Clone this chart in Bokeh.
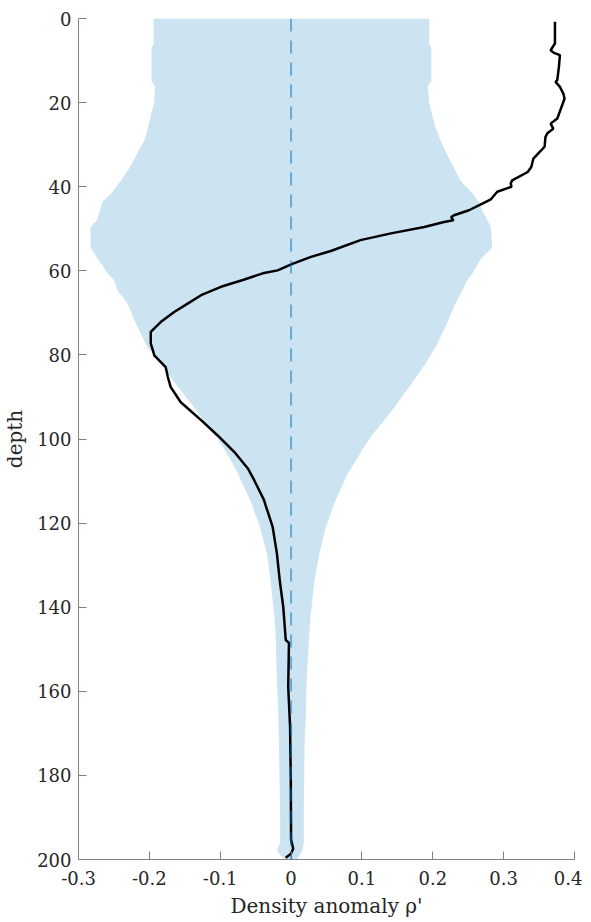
from bokeh.plotting import figure
from bokeh.models import Range1d, FixedTicker, ColumnDataSource, Span
from bokeh.embed import file_html
from bokeh.resources import INLINE

# ---- data ----
band_depth = [0, 6, 7, 15, 16, 20, 23, 26, 29, 32, 34, 35.5, 38.5, 41.6, 43.6, 46.4, 48, 49.6,
              54.5, 57.1, 60.6, 62.2, 64.6, 67.8, 73.3, 78.1, 82, 87.6, 92.4, 96.3, 98.7, 101.9,
              105, 108.2, 113, 115.3, 120.9, 127.2, 133.6, 141.5, 145.5, 157.4, 165.3, 173.2,
              189, 196, 197.8, 199, 200]
band_lower = [-0.194, -0.194, -0.197, -0.197, -0.192, -0.193, -0.198, -0.202, -0.207, -0.217,
              -0.223, -0.228, -0.240, -0.254, -0.266, -0.271, -0.274, -0.283, -0.283, -0.273,
              -0.259, -0.250, -0.245, -0.231, -0.217, -0.203, -0.184, -0.160, -0.137, -0.121,
              -0.109, -0.096, -0.085, -0.075, -0.062, -0.056, -0.044, -0.034, -0.029, -0.024,
              -0.022, -0.020, -0.018, -0.017, -0.0155, -0.0155, -0.020, -0.015, -0.009]
band_upper = [0.195, 0.195, 0.198, 0.198, 0.193, 0.195, 0.199, 0.204, 0.211, 0.219, 0.225,
              0.230, 0.239, 0.256, 0.265, 0.272, 0.277, 0.282, 0.284, 0.268, 0.256, 0.249,
              0.242, 0.232, 0.218, 0.204, 0.190, 0.167, 0.146, 0.128, 0.116, 0.103, 0.092,
              0.080, 0.067, 0.061, 0.049, 0.040, 0.033, 0.028, 0.026, 0.022, 0.021, 0.019,
              0.018, 0.018, 0.016, 0.012, 0.008]

line_depth = [0.8, 5.95, 7.54, 8.17, 8.73, 11.5, 14.67, 15.07, 16.26, 17.84, 19.03, 23.8, 25.0,
              26.2, 27.3, 28.2, 30.5, 32.3, 33.3, 35.3, 36.5, 38.5, 39.2, 40.0, 41.2, 43.0, 44.0,
              45.6, 46.8, 47.2, 48.0, 48.4, 49.6, 51.1, 52.7, 55.3, 56.7, 58.4, 59.9, 60.6, 62.2,
              63.8, 65.8, 67.8, 69.8, 72.2, 74.5, 77.3, 78.9, 80.1, 82.9, 85.2, 87.6, 91.2, 95.5,
              99.1, 103.1, 107.0, 109.8, 114.6, 115.7, 120.9, 127.2, 133.6, 140.0, 147.8, 148.5,
              159.0, 168.5, 181.0, 195.3, 197.4, 198.6, 199.6]
line_value = [0.3724, 0.3724, 0.3663, 0.371, 0.3794, 0.378, 0.3757, 0.3733, 0.3794, 0.3842,
              0.386, 0.3757, 0.3663, 0.370, 0.3617, 0.359, 0.3578, 0.3476, 0.342, 0.339, 0.334,
              0.312, 0.310, 0.311, 0.291, 0.282, 0.270, 0.251, 0.230, 0.226, 0.229, 0.216, 0.188,
              0.141, 0.098, 0.056, 0.028, 0.001, -0.019, -0.040, -0.068, -0.099, -0.127, -0.146,
              -0.165, -0.184, -0.198, -0.198, -0.195, -0.193, -0.177, -0.174, -0.170, -0.156,
              -0.127, -0.104, -0.080, -0.061, -0.052, -0.038, -0.036, -0.026, -0.020, -0.016,
              -0.011, -0.0075, -0.003, -0.004, -0.0014, -0.0004, 0.0, 0.003, 0.0, -0.0075]

x_ticks = [-0.3, -0.2, -0.1, 0, 0.1, 0.2, 0.3, 0.4]
x_tick_labels = ["-0.3", "-0.2", "-0.1", "0", "0.1", "0.2", "0.3", "0.4"]
y_ticks = [0, 20, 40, 60, 80, 100, 120, 140, 160, 180, 200]

FONT = "DejaVu Serif"
AX = "#808080"
TXT = "#262626"

p = figure(frame_width=496, frame_height=841, output_backend="svg", toolbar_location=None,
           x_range=Range1d(-0.3, 0.4), y_range=Range1d(200, 0),
           min_border_top=18, min_border_right=8, min_border_left=0, min_border_bottom=0)
p.outline_line_color = None
p.grid.visible = False
p.background_fill_color = "white"
p.border_fill_color = "white"

band = ColumnDataSource(dict(y=band_depth, x1=band_lower, x2=band_upper))
p.harea(y="y", x1="x1", x2="x2", source=band, fill_color="#0072BD", fill_alpha=0.2)

p.add_layout(Span(location=0, dimension="height", line_color="#0072BD", line_alpha=0.5,
                  line_width=2, line_dash="13 9"))

prof = ColumnDataSource(dict(x=line_value, y=line_depth))
p.line("x", "y", source=prof, line_color="black", line_width=2.5)

p.xaxis.ticker = FixedTicker(ticks=x_ticks)
p.xaxis.major_label_overrides = {t: l for t, l in zip(x_ticks, x_tick_labels)}
p.yaxis.ticker = FixedTicker(ticks=y_ticks)
p.xaxis.axis_label = "Density anomaly ρ'"
p.yaxis.axis_label = "depth"

for ax in (p.xaxis, p.yaxis):
    ax.axis_line_color = AX
    ax.axis_line_width = 1
    ax.major_tick_line_color = AX
    ax.major_tick_in = 8
    ax.major_tick_out = 0
    ax.minor_tick_line_color = None
    ax.major_label_text_font = FONT
    ax.major_label_text_font_size = "18px"
    ax.major_label_text_color = TXT
    ax.axis_label_text_font = FONT
    ax.axis_label_text_font_size = "20px"
    ax.axis_label_text_font_style = "normal"
    ax.axis_label_text_color = TXT

p.xaxis.major_label_standoff = 11
p.xaxis.axis_label_standoff = 6
p.yaxis.major_label_standoff = 7
p.yaxis.axis_label_standoff = 7

open("out.html", "w").write(file_html(p, INLINE))
